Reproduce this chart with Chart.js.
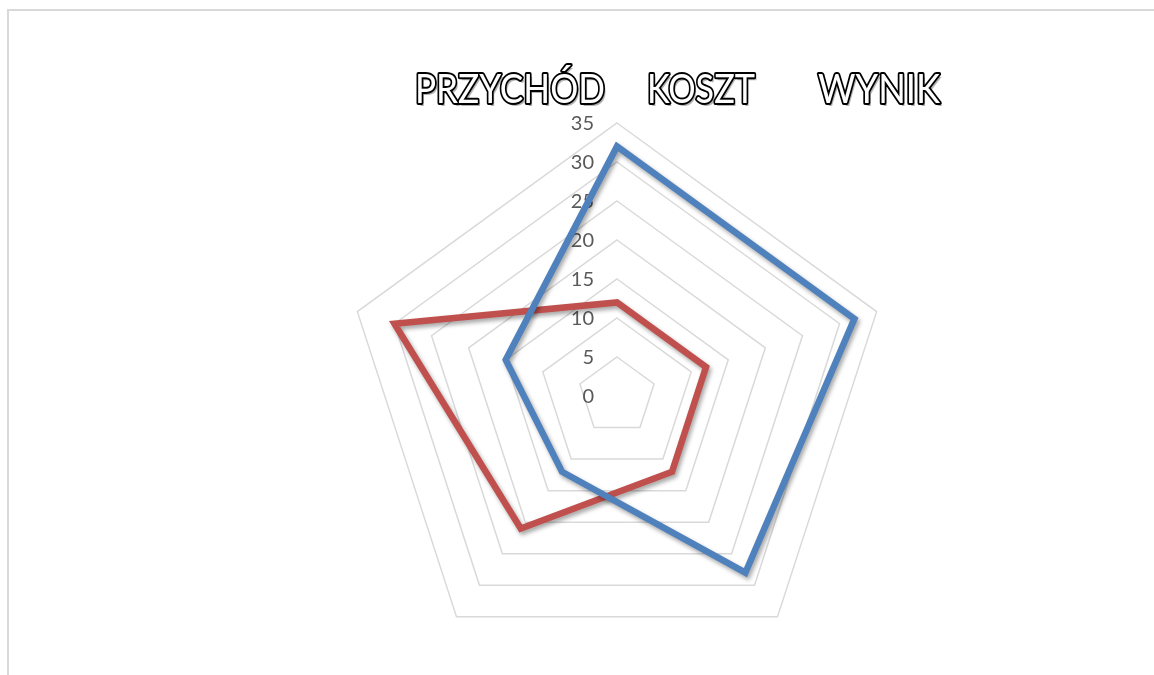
<!DOCTYPE html>
<html>
<head>
<meta charset="utf-8">
<script src="https://cdn.jsdelivr.net/npm/chart.js@4"></script>
<style>
body{margin:0;background:#fff;}
#wrap{width:1154px;height:675px;}
</style>
</head>
<body>
<div id="wrap"><canvas id="radarChart" width="1154" height="675"></canvas></div>

<script>

// data
const labels = ["1", "2", "3", "4", "5"];

const przychod = [32, 32, 28, 12, 15];

const koszt = [12, 12, 12, 21, 30];

const tickValues = [0, 5, 10, 15, 20, 25, 30, 35];

const titleWords = ["PRZYCHÓD", "KOSZT", "WYNIK"];


/*
=========================
PLUGINS
=========================
*/

// light frame of the chart area
const frame = {
id:"frame",
beforeDraw(chart){
const ctx = chart.ctx;
ctx.save();
ctx.strokeStyle = "#d9d9d9";
ctx.lineWidth = 2;
ctx.strokeRect(8, 10, chart.width + 20, chart.height + 20);
ctx.restore();
}
};


// tick numbers sit left of the vertical axis
const tickText = {
id:"tickText",
beforeDatasetsDraw(chart){
const scale = chart.scales.r;
const ctx = chart.ctx;
ctx.save();
ctx.font = "20px Lato";
ctx.fillStyle = "#595959";
ctx.textAlign = "right";
ctx.textBaseline = "middle";
tickValues.forEach(v=>{
const y = scale.yCenter - scale.getDistanceFromCenterForValue(v);
ctx.fillText(String(v), scale.xCenter - 23, y + 1);
});
ctx.restore();
}
};


// drop shadow under the lines
const lineShadow = {
id:"lineShadow",
beforeDatasetDraw(chart){
const ctx = chart.ctx;
ctx.save();
ctx.shadowColor = "rgba(0,0,0,0.35)";
ctx.shadowBlur = 4;
ctx.shadowOffsetX = 2;
ctx.shadowOffsetY = 3;
},
afterDatasetDraw(chart){
chart.ctx.restore();
}
};


// outlined title like the Excel one
const outlineTitle = {
id:"outlineTitle",
afterDraw(chart){
const ctx = chart.ctx;
const xs = [415, 647, 818];
const widths = [190, 108, 122];
ctx.save();
ctx.font = "41px Lato";
ctx.textBaseline = "alphabetic";
ctx.textAlign = "left";
titleWords.forEach((w, i)=>{
const m = ctx.measureText(w).width;
ctx.save();
ctx.translate(xs[i], 103);
ctx.scale(widths[i] / m, 1);
// shadow
ctx.fillStyle = "rgba(0,0,0,0.3)";
ctx.fillText(w, 2.5, 2.5);
ctx.lineJoin = "round";
ctx.lineWidth = 4;
ctx.strokeStyle = "#000";
ctx.strokeText(w, 0, 0);
ctx.fillStyle = "#fff";
ctx.fillText(w, 0, 0);
ctx.restore();
});
ctx.restore();
}
};


/*
=========================
CHART
=========================
*/

const ctx = document.getElementById("radarChart");

const chart = new Chart(ctx, {

type:"radar",

data:{
labels:labels,
datasets:[
{
label:"PRZYCHÓD",
data:przychod,
borderColor:"#4f81bd",
borderWidth:6.5,
pointRadius:0,
fill:false,
borderJoinStyle:"miter"
},
{
label:"KOSZT",
data:koszt,
borderColor:"#c0504d",
borderWidth:6.5,
pointRadius:0,
fill:false,
borderJoinStyle:"miter"
}
]
},

options:{
responsive:false,
animation:false,
layout:{
padding:{top:123, bottom:6, left:80, right:0}
},
plugins:{
legend:{display:false},
title:{display:false},
tooltip:{enabled:false}
},
scales:{
r:{
min:0,
max:35,
ticks:{
stepSize:5,
display:false
},
grid:{
color:"#d9d9d9",
lineWidth:1.5
},
angleLines:{display:false},
pointLabels:{display:false}
}
}
},

plugins:[frame, tickText, lineShadow, outlineTitle]

});

</script>
</body>
</html>
